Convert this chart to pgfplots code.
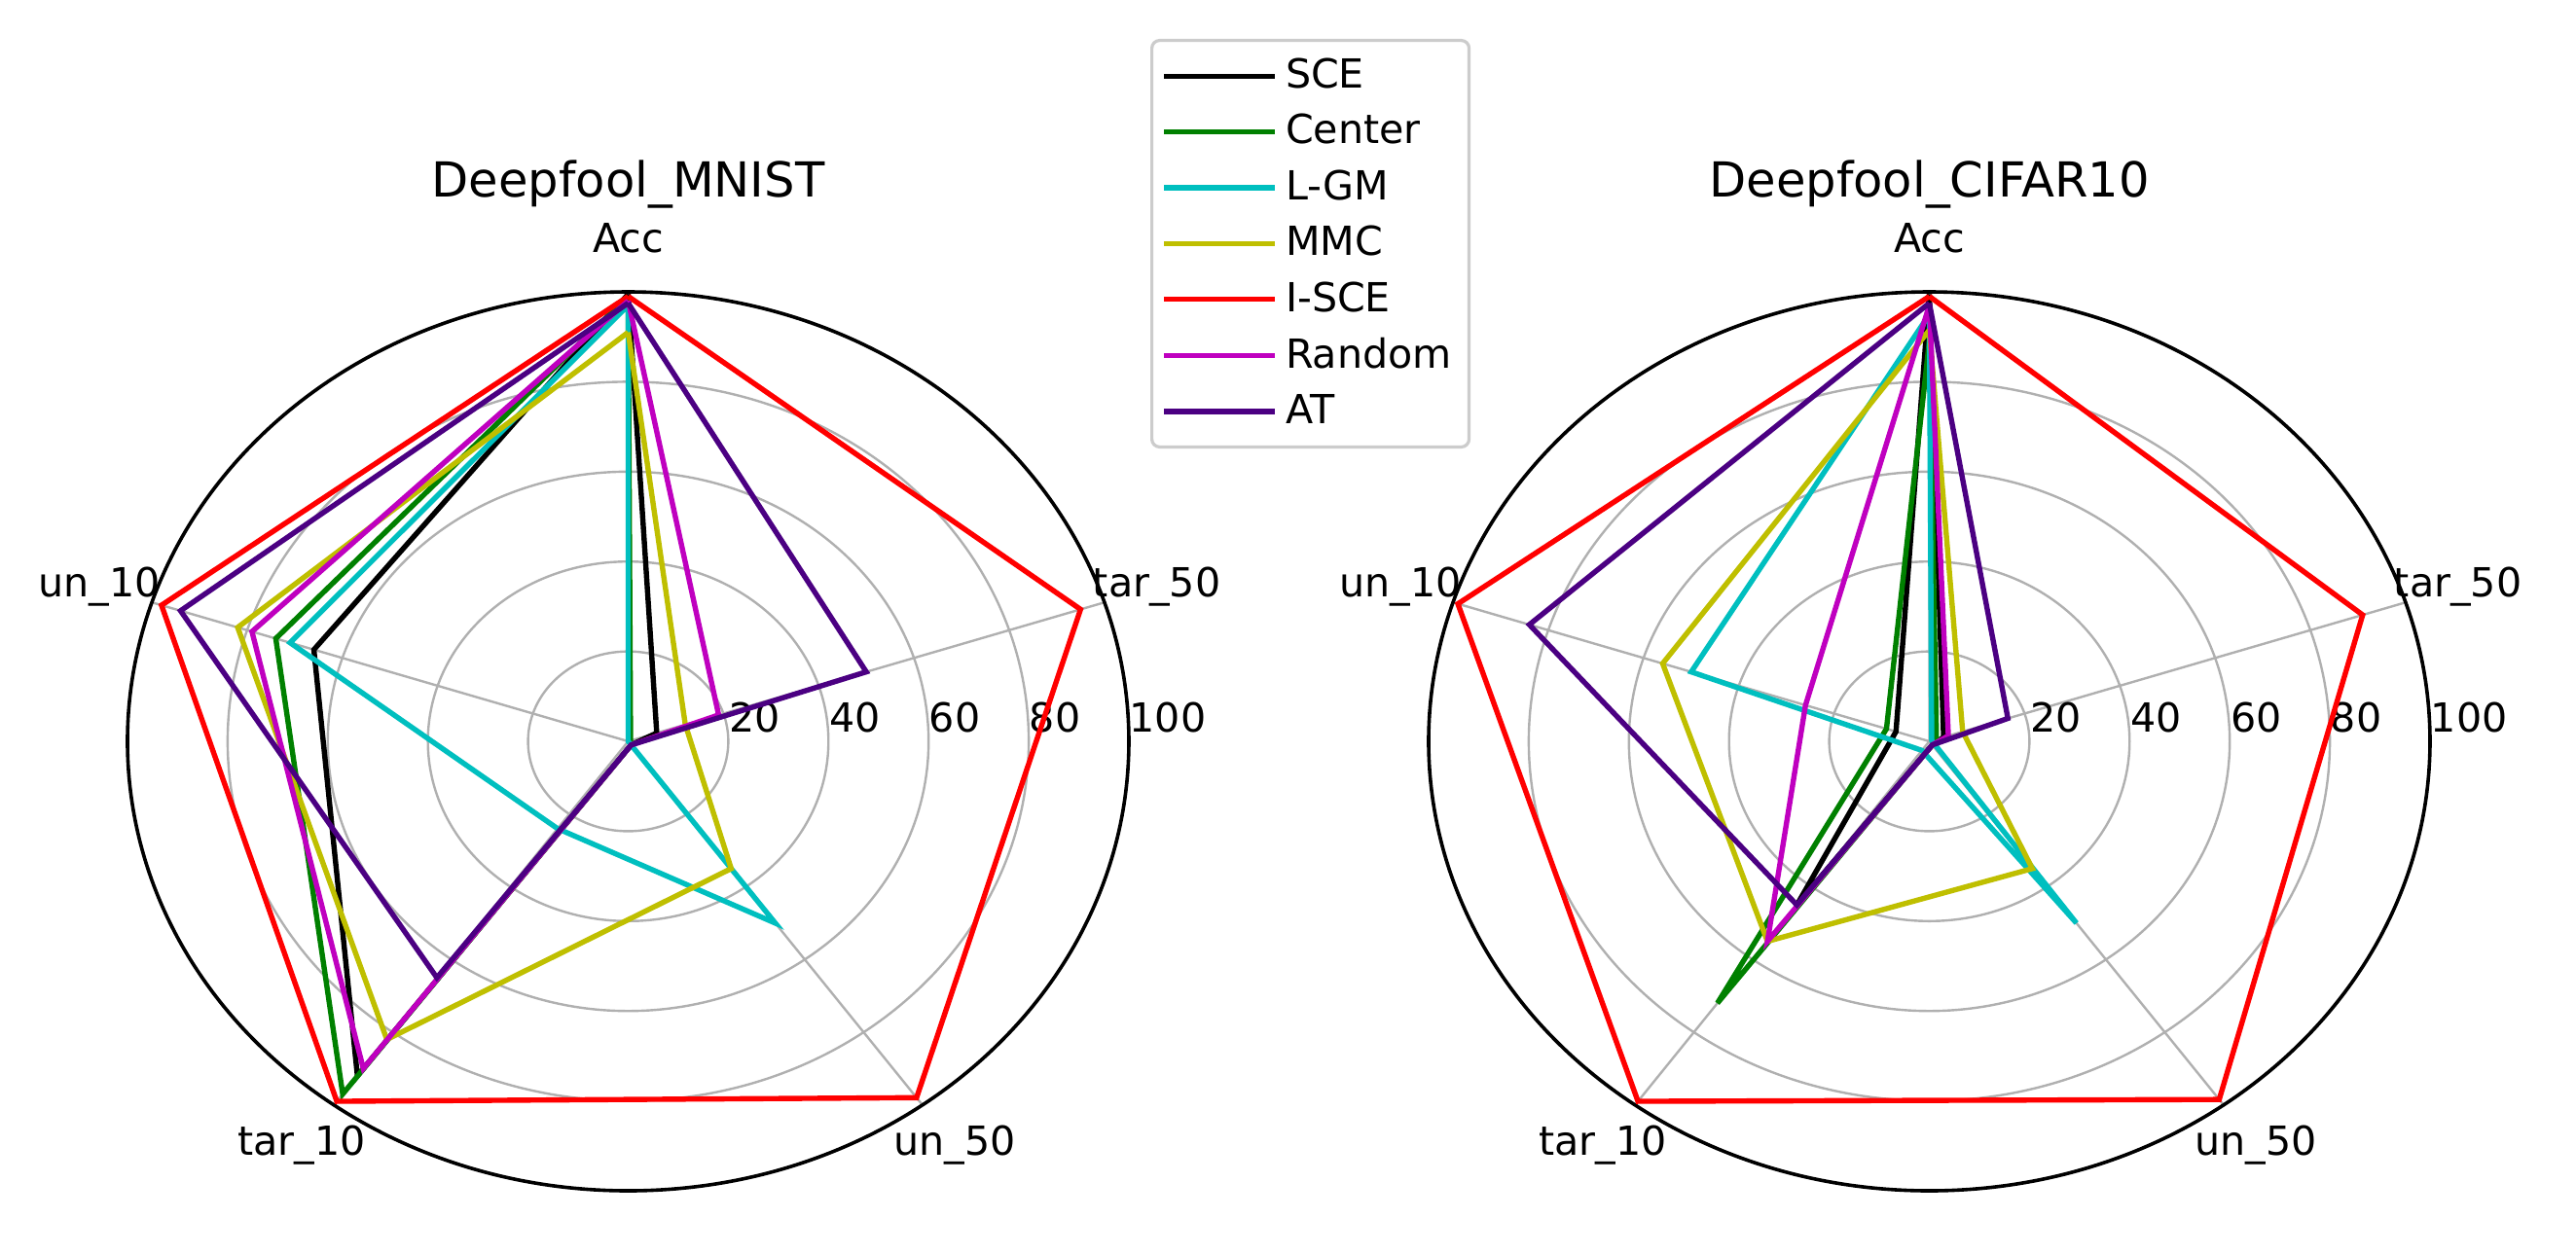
\documentclass[border=0pt]{standalone}
\usepackage{fontspec}
\setmainfont{DejaVu Sans}
\usepackage{pgfplots}
\usepackage{pgfplotstable}
\pgfplotsset{compat=1.18}
\usepgfplotslibrary{polar}

\definecolor{mplgreen}{rgb}{0,0.5,0}
\definecolor{mplcyan}{rgb}{0,0.75,0.75}
\definecolor{mplyellow}{rgb}{0.75,0.75,0}
\definecolor{mplmagenta}{rgb}{0.75,0,0.75}
\definecolor{indigo}{rgb}{0.294,0,0.51}
\definecolor{gridgray}{HTML}{B0B0B0}

% spokes: Acc 90, tar_50 18, un_50 -54, tar_10 -126, un_10 162 (last row closes the polygon)
\pgfplotstableread{
angle SCE  Center LGM MMC ISCE Random AT
90    99.5 99     97  91  99   98     97.5
18    6    0.5    0   12  95   19     50
-54   1    1      50  35  98   1      1
-126  92   97     24  82  99   90     65
162   66   74     71  82  98   79     94
90    99.5 99     97  91  99   98     97.5
}\mnist

\pgfplotstableread{
angle SCE  Center LGM MMC  ISCE Random AT
90    99.5 89     95  91.5 99   97     97.5
18    3    1.5    0.5 7    91   4      16.5
-54   1    1      50  35   98.5 1      1
-126  45   72     2.5 55   99   55     45
162   7    9      50  56   99   26     84
90    99.5 89     95  91.5 99   97     97.5
}\cifar

\pgfplotsset{
  radar/.style={
    scale only axis, width=257.25pt, height=231pt,
    axis equal=false, axis equal image=false,
    ymin=0, ymax=100,
    xtick={18,90,162,234,306}, xticklabels={},
    ytick={20,40,60,80,100},
    grid=major, grid style={gridgray, line width=0.6pt},
    major tick length=0pt,
    axis line style={line width=0.9pt},
    y axis line style={draw=none},
    tick label style={font=\fontsize{10.3}{12}\selectfont},
    yticklabel style={anchor=base west, inner sep=0pt, yshift=2.3pt},
    /pgf/number format/assume math mode=true,
    clip=false,
    every axis plot/.append style={line width=1.35pt, no markers},
    title style={at={(0.5,1)}, anchor=base, yshift=10pt, font=\fontsize{12.4}{14}\selectfont},
  },
}
\tikzset{lbl/.style={font=\fontsize{10.3}{12}\selectfont, anchor=center}}

\begin{document}
\begin{tikzpicture}
\useasboundingbox (-161.375pt,-131.5pt) rectangle (500.375pt,190.5pt);

\begin{polaraxis}[radar, at={(0pt,0pt)}, anchor=center,
  title={Deepfool\_MNIST},
  legend style={at={(1.0214,1.2814)}, anchor=north west, draw=black!20, rounded corners=2pt,
    line width=0.8pt, fill=white, font=\fontsize{10.3}{12}\selectfont,
    inner xsep=2.5pt, inner ysep=2.6pt, row sep=1.2pt, cells={anchor=west}},
  legend image code/.code={\draw[#1] (0pt,0pt) -- (22.5pt,0pt); \path (0pt,0pt) -- (28.5pt,0pt);},
]
\addplot[black] table[x=angle, y=SCE] {\mnist};
\addplot[mplgreen] table[x=angle, y=Center] {\mnist};
\addplot[mplcyan] table[x=angle, y=LGM] {\mnist};
\addplot[mplyellow] table[x=angle, y=MMC] {\mnist};
\addplot[red] table[x=angle, y=ISCE] {\mnist};
\addplot[mplmagenta] table[x=angle, y=Random] {\mnist};
\addplot[indigo] table[x=angle, y=AT] {\mnist};
\legend{SCE,Center,L-GM,MMC,I-SCE,Random,AT}
\node[lbl] at (axis cs:90,112) {Acc};
\node[lbl] at (axis cs:18,111) {tar\_50};
\node[lbl] at (axis cs:-54,111) {un\_50};
\node[lbl] at (axis cs:-126,111) {tar\_10};
\node[lbl] at (axis cs:162,111) {un\_10};
\end{polaraxis}

\begin{polaraxis}[radar, at={(334.25pt,0pt)}, anchor=center,
  title={Deepfool\_CIFAR10},
]
\addplot[black] table[x=angle, y=SCE] {\cifar};
\addplot[mplgreen] table[x=angle, y=Center] {\cifar};
\addplot[mplcyan] table[x=angle, y=LGM] {\cifar};
\addplot[mplyellow] table[x=angle, y=MMC] {\cifar};
\addplot[red] table[x=angle, y=ISCE] {\cifar};
\addplot[mplmagenta] table[x=angle, y=Random] {\cifar};
\addplot[indigo] table[x=angle, y=AT] {\cifar};
\node[lbl] at (axis cs:90,112) {Acc};
\node[lbl] at (axis cs:18,111) {tar\_50};
\node[lbl] at (axis cs:-54,111) {un\_50};
\node[lbl] at (axis cs:-126,111) {tar\_10};
\node[lbl] at (axis cs:162,111) {un\_10};
\end{polaraxis}
\end{tikzpicture}
\end{document}
